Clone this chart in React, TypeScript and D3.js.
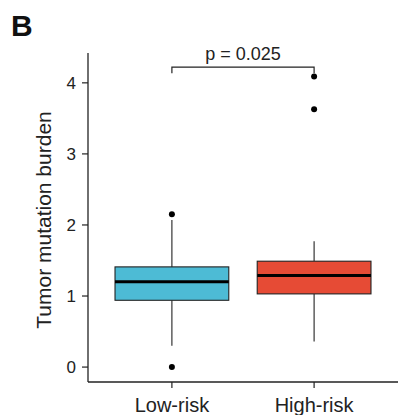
import React from "react";
import * as d3 from "d3";

// Box summary per risk group
const groups = ["Low-risk", "High-risk"];
const whiskerLow = [0.3, 0.36];
const q1 = [0.94, 1.03];
const median = [1.2, 1.29];
const q3 = [1.41, 1.49];
const whiskerHigh = [2.07, 1.77];
const outliers = [
  [2.15, 0],
  [4.09, 3.63],
];
const colors = ["#4DBBD5", "#E64B35"];
const yTicks = [0, 1, 2, 3, 4];
const pLabel = "p = 0.025";
const bracketLevel = 4.22;

const W = 398;
const H = 415;
const margin = { top: 53, right: 0, bottom: 33, left: 88 };
const font = "'Liberation Sans', Arial, Helvetica, sans-serif";

export default function App() {
  const x = d3
    .scaleBand()
    .domain(groups)
    .range([margin.left, W - margin.right])
    .paddingInner(0.2)
    .paddingOuter(0.19);

  const y = d3
    .scaleLinear()
    .domain([-0.21, 4.42])
    .range([H - margin.bottom, margin.top]);

  const bw = x.bandwidth();
  const cx = (g: string) => (x(g) as number) + bw / 2;
  const axisY = H - margin.bottom;
  const left = cx(groups[0]);
  const right = cx(groups[1]);

  return (
    <svg
      width={W}
      height={H}
      style={{ position: "absolute", left: 0, top: 0, background: "#fff" }}
      fontFamily={font}
    >
      <text x={11} y={36} fontSize={30} fontWeight="bold" fill="#111">
        B
      </text>

      {/* axes */}
      <line x1={margin.left} x2={margin.left} y1={margin.top} y2={axisY} stroke="#222" strokeWidth={1.3} />
      <line x1={margin.left} x2={W} y1={axisY} y2={axisY} stroke="#222" strokeWidth={1.3} />
      {yTicks.map((t) => (
        <g key={t}>
          <line x1={margin.left - 6} x2={margin.left} y1={y(t)} y2={y(t)} stroke="#222" strokeWidth={1.2} />
          <text x={margin.left - 12} y={y(t)} dy="0.36em" textAnchor="end" fontSize={17} fill="#222">
            {t}
          </text>
        </g>
      ))}
      {groups.map((g) => (
        <g key={g}>
          <line x1={cx(g)} x2={cx(g)} y1={axisY} y2={axisY + 6} stroke="#222" strokeWidth={1.2} />
          <text x={cx(g)} y={412} textAnchor="middle" fontSize={20} fill="#222">
            {g}
          </text>
        </g>
      ))}
      <text
        transform={`translate(51,220) rotate(-90)`}
        textAnchor="middle"
        fontSize={21}
        fill="#222"
      >
        Tumor mutation burden
      </text>

      {/* boxes */}
      {groups.map((g, i) => (
        <g key={g}>
          <line x1={cx(g)} x2={cx(g)} y1={y(whiskerLow[i])} y2={y(q1[i])} stroke="#222" strokeWidth={1.1} />
          <line x1={cx(g)} x2={cx(g)} y1={y(q3[i])} y2={y(whiskerHigh[i])} stroke="#222" strokeWidth={1.1} />
          <rect
            x={x(g)}
            y={y(q3[i])}
            width={bw}
            height={y(q1[i]) - y(q3[i])}
            fill={colors[i]}
            stroke="#222"
            strokeWidth={1.1}
          />
          <line x1={x(g)} x2={(x(g) as number) + bw} y1={y(median[i])} y2={y(median[i])} stroke="#000" strokeWidth={3} />
          {outliers[i].map((v, j) => (
            <circle key={j} cx={cx(g)} cy={y(v)} r={3} fill="#000" />
          ))}
        </g>
      ))}

      {/* significance bracket */}
      <path
        d={`M${left},${y(bracketLevel) + 6}V${y(bracketLevel)}H${right}V${y(bracketLevel) + 6}`}
        fill="none"
        stroke="#222"
        strokeWidth={1.2}
      />
      <text x={(left + right) / 2} y={y(bracketLevel) - 7} textAnchor="middle" fontSize={18} fill="#222">
        {pLabel}
      </text>
    </svg>
  );
}
